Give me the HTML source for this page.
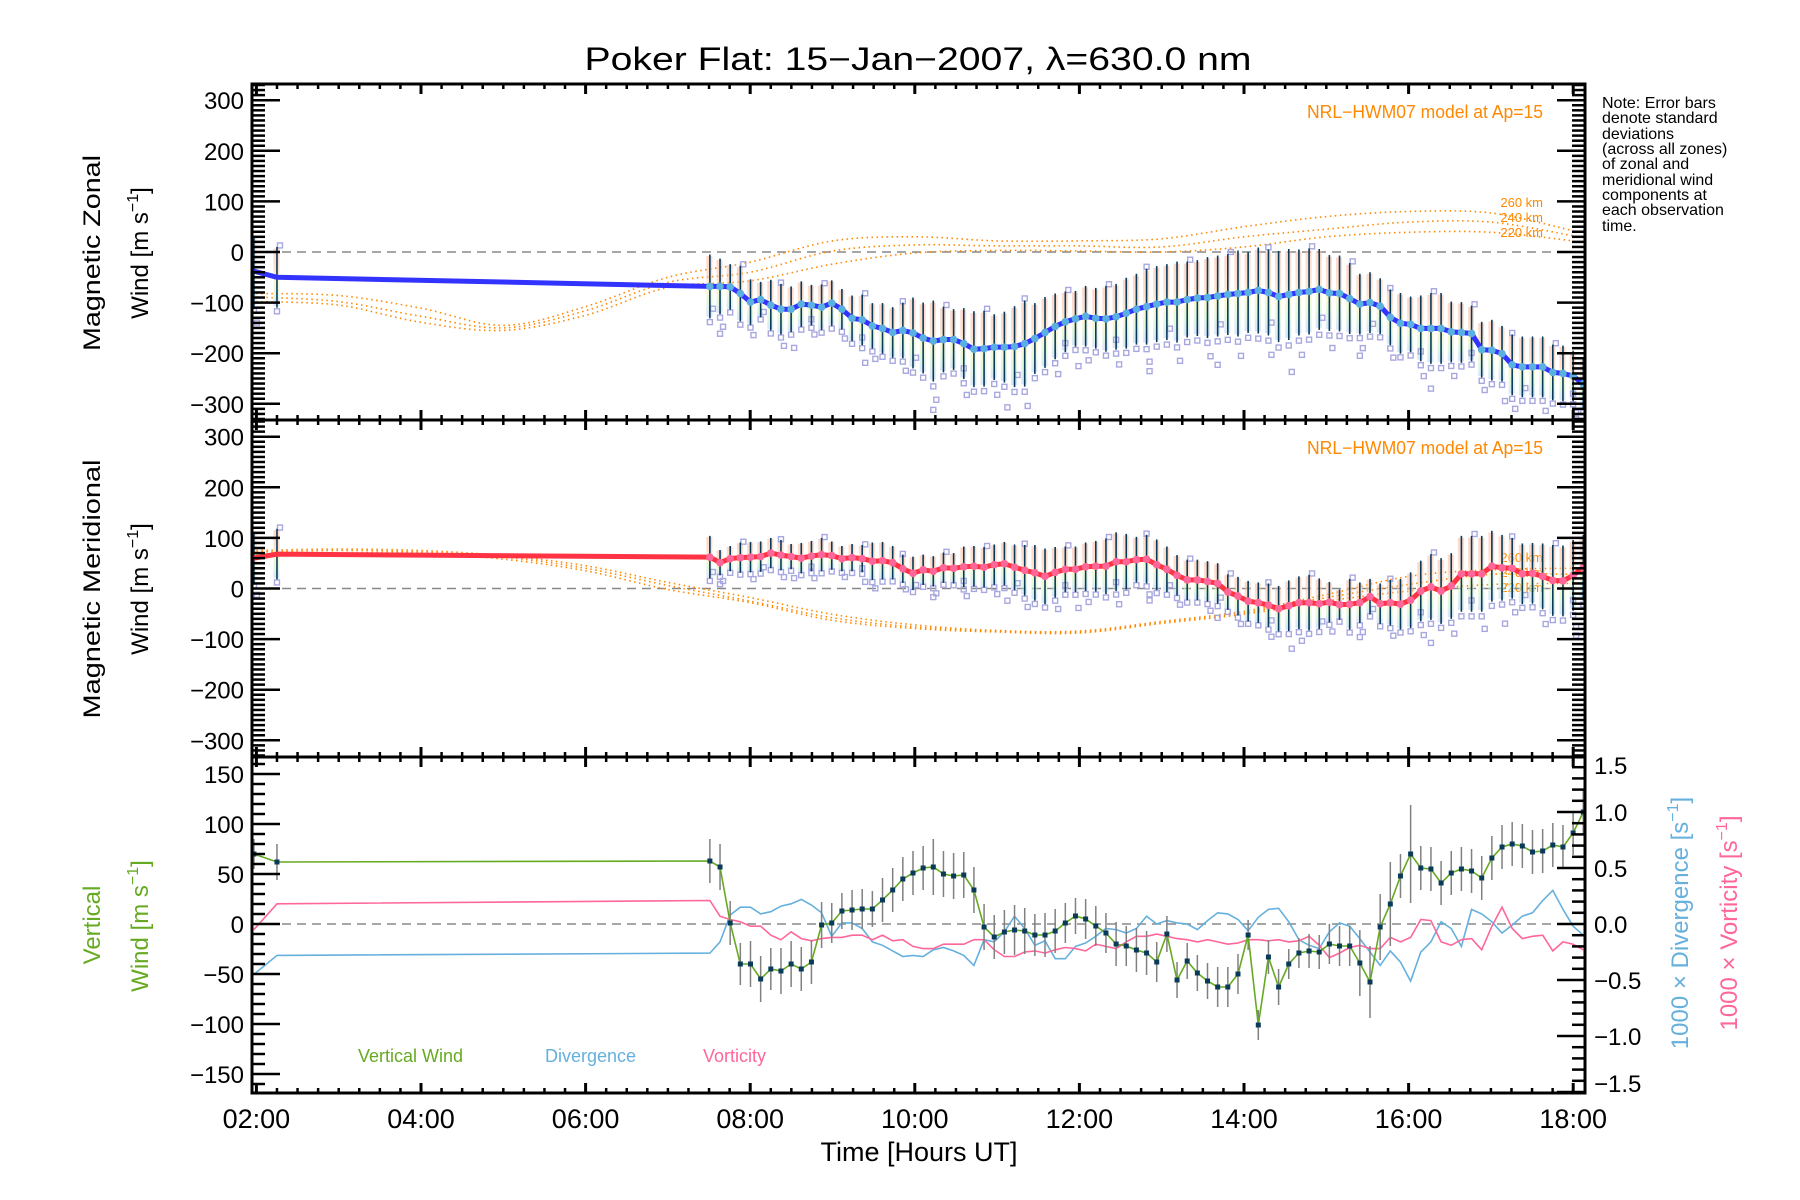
<!DOCTYPE html>
<html><head><meta charset="utf-8"><title>Poker Flat winds</title>
<style>
html,body{margin:0;padding:0;background:#fff;}
svg{display:block;font-family:"Liberation Sans",sans-serif;}
</style></head>
<body>
<svg id="chart" xmlns="http://www.w3.org/2000/svg" width="1800" height="1200" viewBox="0 0 1800 1200">
<defs>
<linearGradient id="pg" x1="0" y1="0" x2="0" y2="1">
<stop offset="0" stop-color="#f9b8a0"/><stop offset="0.35" stop-color="#fbc8a8"/><stop offset="0.55" stop-color="#f8f0a8"/><stop offset="0.78" stop-color="#c8f0c8"/><stop offset="1" stop-color="#b8d0f8"/>
</linearGradient>
<clipPath id="c1"><rect x="252" y="84" width="1333" height="336"/></clipPath>
<clipPath id="c2"><rect x="252" y="420" width="1333" height="337"/></clipPath>
<clipPath id="c3"><rect x="252" y="757" width="1333" height="336"/></clipPath>
</defs>
<text x="918" y="70" font-size="32" text-anchor="middle" textLength="667" lengthAdjust="spacingAndGlyphs">Poker Flat: 15−Jan−2007, λ=630.0 nm</text>
<g font-size="16" fill="#000">
<text x="1602" y="108">Note: Error bars</text>
<text x="1602" y="123">denote standard</text>
<text x="1602" y="139">deviations</text>
<text x="1602" y="154">(across all zones)</text>
<text x="1602" y="169">of zonal and</text>
<text x="1602" y="185">meridional wind</text>
<text x="1602" y="200">components at</text>
<text x="1602" y="215">each observation</text>
<text x="1602" y="231">time.</text>
</g>
<text font-size="24" text-anchor="middle" transform="rotate(-90 100 253)" x="100" y="253" textLength="196" lengthAdjust="spacingAndGlyphs">Magnetic Zonal</text>
<text font-size="24" text-anchor="middle" transform="rotate(-90 148 253)" x="148" y="253">Wind [m s<tspan font-size="16" dy="-10">−1</tspan><tspan dy="10">]</tspan></text>
<text font-size="24" text-anchor="middle" transform="rotate(-90 100 589)" x="100" y="589" textLength="259" lengthAdjust="spacingAndGlyphs">Magnetic Meridional</text>
<text font-size="24" text-anchor="middle" transform="rotate(-90 148 589)" x="148" y="589">Wind [m s<tspan font-size="16" dy="-10">−1</tspan><tspan dy="10">]</tspan></text>
<text font-size="24" fill="#66aa22" text-anchor="middle" transform="rotate(-90 100 925)" x="100" y="925">Vertical</text>
<text font-size="24" fill="#66aa22" text-anchor="middle" transform="rotate(-90 148 926)" x="148" y="926">Wind [m s<tspan font-size="16" dy="-10">−1</tspan><tspan dy="10">]</tspan></text>
<text font-size="24" fill="#66b0dd" text-anchor="middle" transform="rotate(-90 1688 923)" x="1688" y="923">1000 × Divergence [s<tspan font-size="16" dy="-10">−1</tspan><tspan dy="10">]</tspan></text>
<text font-size="24" fill="#ff6699" text-anchor="middle" transform="rotate(-90 1737 923)" x="1737" y="923">1000 × Vorticity [s<tspan font-size="16" dy="-10">−1</tspan><tspan dy="10">]</tspan></text>
<text font-size="27" text-anchor="middle" x="919" y="1161">Time [Hours UT]</text>
<text font-size="18" fill="#ff8800" x="1543" y="118" text-anchor="end" textLength="236" lengthAdjust="spacingAndGlyphs">NRL−HWM07 model at Ap=15</text>
<text font-size="18" fill="#ff8800" x="1543" y="454" text-anchor="end" textLength="236" lengthAdjust="spacingAndGlyphs">NRL−HWM07 model at Ap=15</text>
<g font-size="13" fill="#ff8800" text-anchor="end">
<text x="1543" y="207">260 km</text><text x="1543" y="222">240 km</text><text x="1543" y="237">220 km</text></g>
<g font-size="13" fill="#ff8800" text-anchor="end">
<text x="1543" y="562">260 km</text><text x="1543" y="577">240 km</text><text x="1543" y="592">220 km</text></g>
<text font-size="18" fill="#66aa22" x="358" y="1062">Vertical Wind</text>
<text font-size="18" fill="#66b0dd" x="545" y="1062">Divergence</text>
<text font-size="18" fill="#ff6699" x="703" y="1062">Vorticity</text>
</svg>
<script>
// ---- data ----
const earlyTimes = [1.97, 2.25];
const obsStart = 7.51, obsStep = 0.1234, obsCount = 87;
const times = earlyTimes.slice();
for (let i = 0; i < obsCount; i++) times.push(obsStart + i * obsStep);

const zonalWind = [-38,-50,
-68,-68,-69,-82,-99,-94,-105,-113,-113,-103,-105,-109,-101,-113,-131,-134,-146,-151,-159,-155,-160,-170,-176,-173,-173,-181,-192,-191,-188,-188,-187,-181,-171,-159,-147,-138,-132,-127,-131,-132,-128,-121,-113,-108,
-103,-99,-99,-94,-91,-90,-87,-84,-82,-80,-76,-80,-88,-84,-80,-78,-74,-81,-82,-92,-103,-100,-107,-129,-141,-143,-151,-151,-151,-158,-159,-161,-193,-194,-201,-223,-227,-227,-227,-238,-240,-245,-261];
const zonalSd = [70,60,
63,55,45,55,45,35,50,50,45,45,40, 45,45,40,45,50,45,50,50,55,70, 70,80,65,60,70,75,75,65,70,80,
85,70,70,65,60,55,60,60,65,65, 70,70,75,75,75,80,75,75,80,80, 80,85,80,85,85,90,90,85,85,80,
75,75,70,60,60,55,55,60,55,65, 70,70,60,60,55,55,60,55,60,60, 60,60,55,55,50,50];
const meridWind = [60,68,
62,51,59,61,62,63,70,66,63,60,64,67,65,59,61,59,54,55,51,39,30,37,34,41,40,43,44,42,47,49,42,36,31,24,32,38,38,43,44,44,53,53,57,58,
47,38,26,17,17,14,10,-7,-15,-25,-28,-33,-40,-34,-28,-28,-30,-27,-32,-31,-28,-16,-30,-28,-31,-23,-5,3,-5,5,29,29,29,44,41,40,29,30,24,16,15,26,41];
const meridSd = [50,50,
42,25,25,30,30,30,30,30,25,30,30, 33,28,25,27,27,37,37,33,28,33, 30,30,30,30,40,40,40,40,43,45,
50,55,55,50,45,45,48,50,55,58, 55,45,48,50,45,40,40,40,40,40, 35,38,40,40,43,45,50,52,55,50,
40,30,50,40,35,40,45,50,55,60, 65,65,65,75,75,75,70,65,60,60, 60,65,70,70,70,65];
const vertWind = [70,62,
63,57,1,-40,-40,-55,-45,-47,-40,-45,-38,-1,1,13,14,15,15,24,34,45,51,56,57,50,48,49,34,-3,-13,-8,-6,-7,-11,-11,-7,1,8,5,-2,-9,-20,-22,-26,-29,
-38,-10,-56,-37,-49,-57,-63,-63,-50,-11,-101,-33,-63,-40,-29,-27,-28,-20,-22,-22,-39,-58,-3,20,48,70,56,55,41,51,55,53,46,66,77,80,78,72,73,79,77,91,112];
const vertSd = [15,18,
22,23,22,21,23,23,21,23,23,22,22, 23,20,18,20,20,18,22,22,22,22, 22,28,23,23,23,23,23,22,22,25,
23,21,22,22,20,18,20,20,20,22, 20,22,22,20,18,18,18,18,18,20, 20,20,15,15,17,18,15,15,17,17,
20,20,20,33,36,33,42,22,49,22, 22,22,22,22,22,22,22,22,22,22, 22,22,22,22,22,22];
const divergence = [-0.45,-0.28,
-0.26,-0.16,0.08,0.15,0.15,0.09,0.11,0.16,0.18,0.22,0.17,0.10,-0.11,0.01,0.01,-0.04,-0.16,-0.19,-0.24,-0.29,-0.28,-0.29,-0.23,-0.21,-0.24,-0.28,-0.37,-0.14,-0.16,-0.07,0.07,-0.04,-0.19,-0.15,-0.31,-0.31,-0.20,-0.17,-0.11,-0.04,-0.05,-0.08,-0.04,0.07,
0.00,0.03,0.01,0.00,-0.05,0.03,0.10,0.09,0.04,-0.06,0.06,0.13,0.14,0.02,-0.14,-0.19,-0.22,-0.07,0.01,-0.02,-0.13,-0.25,-0.37,-0.24,-0.34,-0.51,-0.25,-0.16,0.02,-0.04,-0.20,0.13,0.09,0.02,-0.08,-0.01,0.07,0.10,0.21,0.30,0.13,-0.02,-0.10];
const vorticity = [-0.05,0.18,
0.21,0.07,0.04,0.02,-0.02,-0.02,-0.10,-0.14,-0.07,-0.13,-0.15,-0.13,-0.12,-0.12,-0.10,-0.10,-0.14,-0.10,-0.15,-0.14,-0.20,-0.22,-0.22,-0.18,-0.18,-0.18,-0.14,-0.14,-0.23,-0.29,-0.29,-0.25,-0.24,-0.26,-0.23,-0.21,-0.22,-0.24,-0.18,-0.20,-0.22,-0.16,-0.11,-0.11,
-0.09,-0.11,-0.13,-0.14,-0.16,-0.14,-0.16,-0.18,-0.17,-0.14,-0.14,-0.15,-0.14,-0.16,-0.15,-0.11,-0.19,-0.30,-0.26,-0.21,-0.19,-0.22,-0.22,-0.12,-0.16,-0.12,0.04,0.03,-0.16,-0.19,-0.14,-0.13,-0.23,-0.02,0.15,-0.04,-0.13,-0.11,-0.10,-0.24,-0.16,-0.18,-0.23];

const modelHours = [2,3,4,5,6,7,8,9,10,11,12,13,14,15,16,17,18];
const zonalModel260 = [-82,-86,-111,-145,-108,-50,-20,22,30,22,22,26,50,70,80,77,42];
const zonalModel240 = [-89,-98,-127,-150,-116,-60,-40,2,14,12,12,10,30,45,59,59,32];
const zonalModel220 = [-98,-105,-139,-155,-125,-70,-57,-24,-2,3,2,0,10,30,39,39,22];
const meridModel260 = [75,78,75,65,45,12,-18,-51,-72,-83,-84,-65,-45,-12,24,37,40];
const meridModel240 = [72,75,72,62,40,6,-25,-58,-76,-84,-86,-67,-48,-18,8,28,28];
const meridModel220 = [68,70,70,58,35,-2,-28,-63,-79,-86,-88,-69,-51,-25,-5,8,10];

const windTicks = [300,200,100,0,-100,-200,-300];
const windTickLabels = ['300','200','100','0','−100','−200','−300'];
const vertTicks = [150,100,50,0,-50,-100,-150];
const vertTickLabels = ['150','100','50','0','−50','−100','−150'];
const rightTicks = [1.5,1.0,0.5,0,-0.5,-1.0,-1.5];
const rightTickLabels = ['1.5','1.0','0.5','0.0','−0.5','−1.0','−1.5'];
const hourTicks = [2,4,6,8,10,12,14,16,18];
const hourTickLabels = ['02:00','04:00','06:00','08:00','10:00','12:00','14:00','16:00','18:00'];

// ---- scales ----
const L = 252, R = 1585;
const X = h => 421 + (h - 4) * 82.3;
const Y1 = v => 252 - v * 0.506;
const Y2 = v => 588.5 - v * 0.506;
const Y3 = v => 924 - v * 1.0;
const YR = d => 924 - d * 112;
const panels = [{t:84,b:420},{t:420,b:757},{t:757,b:1093}];

const NS = 'http://www.w3.org/2000/svg';
const svg = document.getElementById('chart');
function mk(tag, attrs, parent) {
  const e = document.createElementNS(NS, tag);
  for (const k in attrs) e.setAttribute(k, attrs[k]);
  (parent || svg).appendChild(e);
  return e;
}
function smooth(xs, ys) {
  let d = 'M' + xs[0].toFixed(1) + ',' + ys[0].toFixed(1);
  for (let i = 0; i < xs.length - 1; i++) {
    const x0 = xs[Math.max(i-1,0)], y0 = ys[Math.max(i-1,0)];
    const x1 = xs[i], y1 = ys[i], x2 = xs[i+1], y2 = ys[i+1];
    const x3 = xs[Math.min(i+2,xs.length-1)], y3 = ys[Math.min(i+2,xs.length-1)];
    d += ' C' + (x1+(x2-x0)/6).toFixed(1)+','+(y1+(y2-y0)/6).toFixed(1)+' '+(x2-(x3-x1)/6).toFixed(1)+','+(y2-(y3-y1)/6).toFixed(1)+' '+x2.toFixed(1)+','+y2.toFixed(1);
  }
  return d;
}
function poly(xs, ys) { return xs.map((x,i)=>(i?'L':'M')+x.toFixed(1)+','+ys[i].toFixed(1)).join(' '); }

// ---- wind panels (zonal, meridional) ----
function windPanel(clip, Y, vals, sds, m260, m240, m220, lineColor, dotColor, nm) {
  const g = mk('g', {'clip-path':'url(#'+clip+')'});
  
  
  const zl = mk('line', {x1:L, x2:R, y1:Y(0), y2:Y(0), stroke:'#888', 'stroke-width':1.5, 'stroke-dasharray':'9,6'}, g);
  
  
  const mx = modelHours.map(X);
  [m260, m240, m220].forEach((m, k) => {
    const p = mk('path', {d: smooth(mx, m.map(Y)), fill:'none', stroke:'#ff8800', 'stroke-width':1.6, 'stroke-dasharray':'1.5,3.5'}, g);
    
    
  });
  for (let i = 0; i < times.length; i++) {
    const x = X(times[i]), v = vals[i], s = sds[i];
    const r = mk('rect', {x: x-3.5, y: Y(v + s*0.95), width: 6, height: Y(v - s*0.95) - Y(v + s*0.95), fill:'url(#pg)', opacity:0.55}, g);
    
    
    const offs = [-1.12];
    if (i % 3 === 0) offs.push(-1.45);
    if (i % 4 === 1) offs.push(1.05);
    if (i % 5 === 2) offs.push(-0.7);
    if (i % 7 === 3) offs.push(-1.7);
    offs.forEach((o, j) => {
      const q = mk('rect', {x: x-2.5 + (j%2 ? 3 : 0), y: Y(v + o*s)-2.5, width:5, height:5, fill:'none', stroke:'#a8a8e0', 'stroke-width':1.4}, g);
      
      
    });
    const e = mk('line', {x1:x, x2:x, y1:Y(v+s), y2:Y(v-s), stroke:'#0a3a5a', 'stroke-width':1.6}, g);
    
    
  }
  const xs = times.map(X), ys = vals.map(Y);
  const ln = mk('path', {d: poly(xs, ys), fill:'none', stroke:lineColor, 'stroke-width':5, 'stroke-linejoin':'round'}, g);
  
  
  for (let i = 2; i < times.length; i++) {
    const c = mk('circle', {cx: xs[i], cy: ys[i], r: 3.8, fill: dotColor}, g);
    
    
  }
}
windPanel('c1', Y1, zonalWind, zonalSd, zonalModel260, zonalModel240, zonalModel220, '#3333ff', '#5ab0e0', 'zonal');
windPanel('c2', Y2, meridWind, meridSd, meridModel260, meridModel240, meridModel220, '#ff3344', '#ff6699', 'meridional');

// ---- vertical panel ----
(function(){
  const g = mk('g', {'clip-path':'url(#c3)'});
  
  
  const zl = mk('line', {x1:L, x2:R, y1:Y3(0), y2:Y3(0), stroke:'#888', 'stroke-width':1.5, 'stroke-dasharray':'9,6'}, g);
  
  
  const xs = times.map(X);
  const dv = mk('path', {d: poly(xs, divergence.map(YR)), fill:'none', stroke:'#66b0dd', 'stroke-width':1.6}, g);
  
  
  const vo = mk('path', {d: poly(xs, vorticity.map(YR)), fill:'none', stroke:'#ff6699', 'stroke-width':1.6}, g);
  
  
  for (let i = 0; i < times.length; i++) {
    const e = mk('line', {x1:xs[i], x2:xs[i], y1:Y3(vertWind[i]+vertSd[i]), y2:Y3(vertWind[i]-vertSd[i]), stroke:'#808080', 'stroke-width':1.5}, g);
    
    
  }
  const vl = mk('path', {d: poly(xs, vertWind.map(Y3)), fill:'none', stroke:'#66aa22', 'stroke-width':1.6}, g);
  
  
  for (let i = 0; i < times.length; i++) {
    const c = mk('rect', {x: xs[i]-2.5, y: Y3(vertWind[i])-2.5, width:5, height:5, fill:'#0a3a5a'}, g);
    
    
  }
})();

// ---- axes ----
const ax = mk('g', {stroke:'#000', fill:'none'});


panels.forEach((p, k) => {
  const fr = mk('rect', {x:L, y:p.t, width:R-L, height:p.b-p.t, 'stroke-width':3}, ax);
  
  
  for (let h = 2; h <= 18.01; h += 0.25) {
    const major = Math.abs(h - Math.round(h)) < 0.01 && Math.round(h) % 2 === 0;
    const len = major ? 10 : 5, w = major ? 3 : 2.5;
    const x = X(h);
    mk('line', {x1:x, x2:x, y1:p.t, y2:p.t+len, 'stroke-width':w}, ax);
    mk('line', {x1:x, x2:x, y1:p.b, y2:p.b-len, 'stroke-width':w}, ax);
  }
});
function yTicks(Yf, lo, hi, minorStep, majorStep, left, right, t, b) {
  for (let v = lo; v <= hi + 1e-6; v += minorStep) {
    const y = Yf(v); if (y < t + 1 || y > b - 1) continue;
    const major = Math.abs(v / majorStep - Math.round(v / majorStep)) < 1e-6;
    const len = major ? 28 : 13;
    if (left) mk('line', {x1:L, x2:L+len, y1:y, y2:y, 'stroke-width':2.5}, ax);
    if (right) mk('line', {x1:R, x2:R-len, y1:y, y2:y, 'stroke-width':2.5}, ax);
  }
}
yTicks(Y1, -330, 330, 10, 100, true, true, 84, 420);
yTicks(Y2, -330, 330, 10, 100, true, true, 420, 757);
yTicks(Y3, -170, 170, 10, 50, true, false, 757, 1093);
yTicks(YR, -1.5, 1.5, 0.1, 0.5, false, true, 757, 1093);

const lbl = mk('g', {'font-size':24, fill:'#000'});


windTicks.forEach((v, i) => {
  const a = mk('text', {x:244, y:Y1(v)+9, 'text-anchor':'end'}, lbl); a.textContent = windTickLabels[i];
  
  
  const b = mk('text', {x:244, y:Y2(v)+9, 'text-anchor':'end'}, lbl); b.textContent = windTickLabels[i];
  
  
});
vertTicks.forEach((v, i) => {
  const a = mk('text', {x:244, y:Y3(v)+9, 'text-anchor':'end'}, lbl); a.textContent = vertTickLabels[i];
  
  
});
rightTicks.forEach((v, i) => {
  const yy = Math.min(Math.max(YR(v), 765), 1083);
  const a = mk('text', {x:1594, y:yy+9}, lbl); a.textContent = rightTickLabels[i];
  
  
});
hourTicks.forEach((h, i) => {
  const a = mk('text', {x:X(h), y:1128, 'text-anchor':'middle', 'font-size':27}, lbl); a.textContent = hourTickLabels[i];
  
  
});
</script>
</body></html>
